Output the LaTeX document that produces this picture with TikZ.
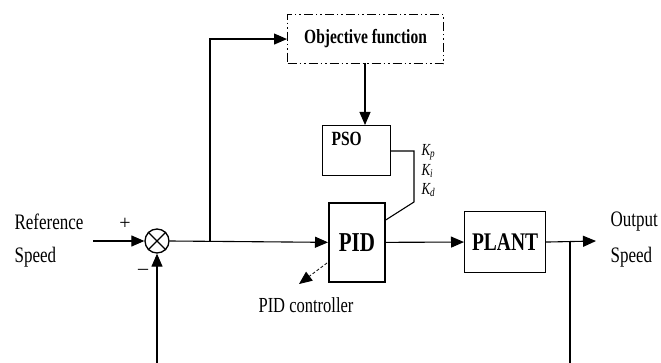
\documentclass[tikz,border=0pt]{standalone}
\usepackage{fontspec}
\setmainfont{Liberation Serif}
\usetikzlibrary{arrows.meta}
\newcommand{\tallx}[1]{\scalebox{1}[1.3]{#1}}
\begin{document}
\begin{tikzpicture}[x=1pt,y=-1pt,
  line width=1.1pt,
  arr/.style={-{Triangle[length=13pt,width=11pt]}},
  blk/.style={draw,line width=1.1pt,inner sep=0pt,anchor=north west},
  lbl/.style={font=\fontsize{17}{17}\selectfont,inner sep=0pt}]
\useasboundingbox (0,0) rectangle (661,363);
% boxes
\node[blk,dash pattern=on 9pt off 3pt on 1.5pt off 3pt on 1.5pt off 3pt,minimum width=156pt,minimum height=49pt] (obj) at (287,14) {};
\node[font=\bfseries\fontsize{15.5}{15.5}\selectfont,inner sep=0pt] (objt) at (obj.center) {\tallx{Objective function}};
\node[blk,minimum width=68pt,minimum height=50pt] (pso) at (322,125) {};
\node[font=\bfseries\fontsize{15.5}{15.5}\selectfont,anchor=west,inner sep=0pt] (psot) at (331,139) {\tallx{PSO}};
\node[blk,line width=1.7pt,minimum width=56pt,minimum height=79pt] (pid) at (328,202) {};
\node[font=\bfseries\fontsize{21}{21}\selectfont,inner sep=0pt] (pidt) at (pid.center) {\tallx{PID}};
\node[blk,minimum width=81pt,minimum height=61pt] (plant) at (464,211) {};
\node[font=\bfseries\fontsize{19.5}{19.5}\selectfont,inner sep=0pt] (plantt) at (plant.center) {\tallx{PLANT}};
% sum
\node[draw,circle,line width=1.3pt,minimum size=24pt,inner sep=0pt] (sum) at (157,241) {};
\draw[line width=1.2pt] (sum.north west) -- (sum.south east) (sum.north east) -- (sum.south west);
% texts
\node[lbl,anchor=west] (ref1) at (14,222) {\tallx{Reference}};
\node[lbl,anchor=west] (ref2) at (14,257) {\tallx{Speed}};
\node[lbl,anchor=west] (out1) at (610,222) {\tallx{Output}};
\node[lbl,anchor=west] (out2) at (610,257) {\tallx{Speed}};
\node[font=\fontsize{20}{20}\selectfont,inner sep=0pt] (plus) at (125,224) {+};
\node[font=\fontsize{20}{20}\selectfont,inner sep=0pt] (minus) at (143,272) {\textendash};
\node[font=\fontsize{16.5}{16.5}\selectfont,inner sep=0pt] (pidc) at (306,305) {\tallx{PID controller}};
\node[font=\itshape\fontsize{13}{13}\selectfont,inner sep=0pt,anchor=west] (kp) at (421,152) {\tallx{K\textsubscript{p}}};
\node[font=\itshape\fontsize{13}{13}\selectfont,inner sep=0pt,anchor=west] (ki) at (421,171) {\tallx{K\textsubscript{i}}};
\node[font=\itshape\fontsize{13}{13}\selectfont,inner sep=0pt,anchor=west] (kd) at (421,190) {\tallx{K\textsubscript{d}}};
% coordinates
\coordinate (inS) at (93,241);
\coordinate (fbB) at (157,363);
\coordinate (br) at (210,241);
\coordinate (outE) at (596,241);
\coordinate (br2) at (570,241);
\coordinate (fb2) at (570,363);
\coordinate (pidcA) at (327,263);
\coordinate (pidcB) at (299,284);
\coordinate (objB) at (365,63);
% connectors
\draw[arr] (inS) -- (sum.west);
\draw[arr] (fbB) -- (sum.south);
\draw[arr] (sum.east) -- (pid.west);
\draw[arr] (br) |- (obj.west);
\draw[arr] (objB) -- (objB |- pso.north);
\draw[arr] (pid.east) -- (plant.west);
\draw[arr] (plant.east) -- (outE);
\draw (br2) -- (fb2);
\draw (pso.east |- 0,151) -- (414,151) -- (414,202) -- (pid.east |- 0,220);
\draw[arr,densely dashed,line width=0.8pt] (pidcA) -- (pidcB);
\end{tikzpicture}
\end{document}
